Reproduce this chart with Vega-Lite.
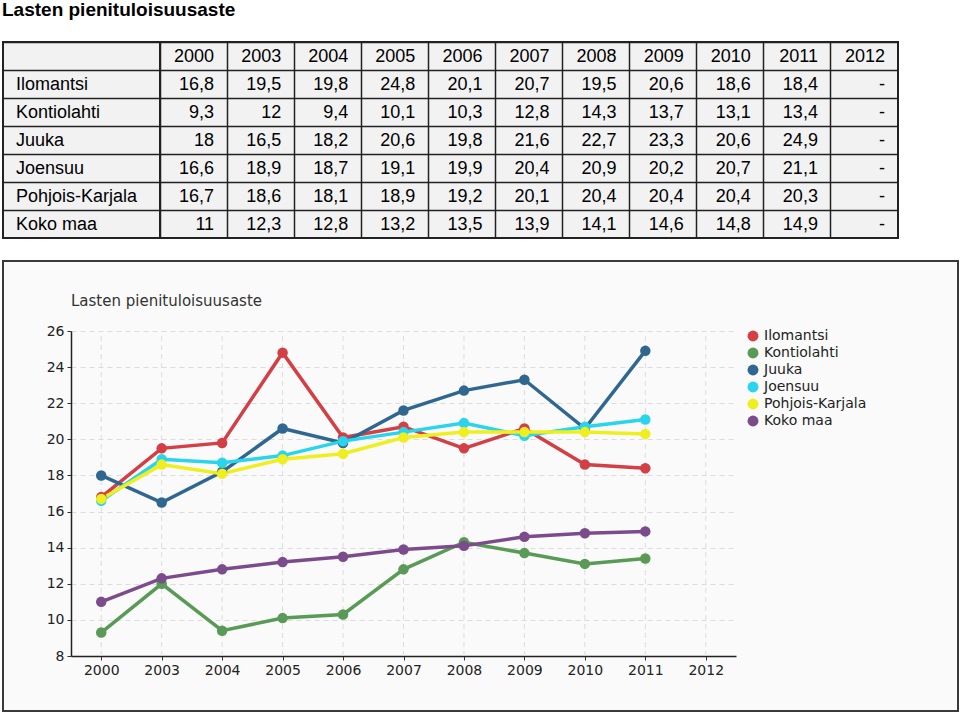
{
  "$schema": "https://vega.github.io/schema/vega-lite/v6.json",
  "padding": {"left": 2, "top": 1, "right": 3, "bottom": 2},
  "background": "white",
  "title": {"text": "Lasten pienituloisuusaste", "anchor": "start", "font": "Liberation Sans", "fontSize": 19, "fontWeight": "bold", "color": "#000000", "baseline": "top", "offset": 21},
  "config": {
    "locale": {"number": {"decimal": ",", "thousands": " ", "grouping": [3], "currency": ["", " €"]}},
    "view": {"stroke": null}
  },
  "datasets": {
    "rates": [
      {"region": "Ilomantsi", "year": "2000", "value": 16.8},
      {"region": "Ilomantsi", "year": "2003", "value": 19.5},
      {"region": "Ilomantsi", "year": "2004", "value": 19.8},
      {"region": "Ilomantsi", "year": "2005", "value": 24.8},
      {"region": "Ilomantsi", "year": "2006", "value": 20.1},
      {"region": "Ilomantsi", "year": "2007", "value": 20.7},
      {"region": "Ilomantsi", "year": "2008", "value": 19.5},
      {"region": "Ilomantsi", "year": "2009", "value": 20.6},
      {"region": "Ilomantsi", "year": "2010", "value": 18.6},
      {"region": "Ilomantsi", "year": "2011", "value": 18.4},
      {"region": "Ilomantsi", "year": "2012", "value": null},
      {"region": "Kontiolahti", "year": "2000", "value": 9.3},
      {"region": "Kontiolahti", "year": "2003", "value": 12},
      {"region": "Kontiolahti", "year": "2004", "value": 9.4},
      {"region": "Kontiolahti", "year": "2005", "value": 10.1},
      {"region": "Kontiolahti", "year": "2006", "value": 10.3},
      {"region": "Kontiolahti", "year": "2007", "value": 12.8},
      {"region": "Kontiolahti", "year": "2008", "value": 14.3},
      {"region": "Kontiolahti", "year": "2009", "value": 13.7},
      {"region": "Kontiolahti", "year": "2010", "value": 13.1},
      {"region": "Kontiolahti", "year": "2011", "value": 13.4},
      {"region": "Kontiolahti", "year": "2012", "value": null},
      {"region": "Juuka", "year": "2000", "value": 18},
      {"region": "Juuka", "year": "2003", "value": 16.5},
      {"region": "Juuka", "year": "2004", "value": 18.2},
      {"region": "Juuka", "year": "2005", "value": 20.6},
      {"region": "Juuka", "year": "2006", "value": 19.8},
      {"region": "Juuka", "year": "2007", "value": 21.6},
      {"region": "Juuka", "year": "2008", "value": 22.7},
      {"region": "Juuka", "year": "2009", "value": 23.3},
      {"region": "Juuka", "year": "2010", "value": 20.6},
      {"region": "Juuka", "year": "2011", "value": 24.9},
      {"region": "Juuka", "year": "2012", "value": null},
      {"region": "Joensuu", "year": "2000", "value": 16.6},
      {"region": "Joensuu", "year": "2003", "value": 18.9},
      {"region": "Joensuu", "year": "2004", "value": 18.7},
      {"region": "Joensuu", "year": "2005", "value": 19.1},
      {"region": "Joensuu", "year": "2006", "value": 19.9},
      {"region": "Joensuu", "year": "2007", "value": 20.4},
      {"region": "Joensuu", "year": "2008", "value": 20.9},
      {"region": "Joensuu", "year": "2009", "value": 20.2},
      {"region": "Joensuu", "year": "2010", "value": 20.7},
      {"region": "Joensuu", "year": "2011", "value": 21.1},
      {"region": "Joensuu", "year": "2012", "value": null},
      {"region": "Pohjois-Karjala", "year": "2000", "value": 16.7},
      {"region": "Pohjois-Karjala", "year": "2003", "value": 18.6},
      {"region": "Pohjois-Karjala", "year": "2004", "value": 18.1},
      {"region": "Pohjois-Karjala", "year": "2005", "value": 18.9},
      {"region": "Pohjois-Karjala", "year": "2006", "value": 19.2},
      {"region": "Pohjois-Karjala", "year": "2007", "value": 20.1},
      {"region": "Pohjois-Karjala", "year": "2008", "value": 20.4},
      {"region": "Pohjois-Karjala", "year": "2009", "value": 20.4},
      {"region": "Pohjois-Karjala", "year": "2010", "value": 20.4},
      {"region": "Pohjois-Karjala", "year": "2011", "value": 20.3},
      {"region": "Pohjois-Karjala", "year": "2012", "value": null},
      {"region": "Koko maa", "year": "2000", "value": 11},
      {"region": "Koko maa", "year": "2003", "value": 12.3},
      {"region": "Koko maa", "year": "2004", "value": 12.8},
      {"region": "Koko maa", "year": "2005", "value": 13.2},
      {"region": "Koko maa", "year": "2006", "value": 13.5},
      {"region": "Koko maa", "year": "2007", "value": 13.9},
      {"region": "Koko maa", "year": "2008", "value": 14.1},
      {"region": "Koko maa", "year": "2009", "value": 14.6},
      {"region": "Koko maa", "year": "2010", "value": 14.8},
      {"region": "Koko maa", "year": "2011", "value": 14.9},
      {"region": "Koko maa", "year": "2012", "value": null}
    ]
  },
  "spacing": 21,
  "vconcat": [
    {
      "bounds": "flush",
      "spacing": 0,
      "hconcat": [
        {
          "width": 157,
          "height": 196,
          "view": {"fill": "#f2f2f2", "stroke": "#222222", "strokeWidth": 2},
          "data": {"name": "rates"},
          "transform": [{"filter": "datum.year == '2000'"}],
          "mark": {"type": "text", "align": "left", "baseline": "middle", "dx": 13, "dy": 1, "font": "Liberation Sans", "fontSize": 18, "color": "#000000"},
          "encoding": {
            "x": {"datum": 0, "type": "quantitative", "scale": {"domain": [0, 1]}, "axis": null},
            "y": {
              "field": "region", "type": "nominal", "bandPosition": 0.5,
              "scale": {"type": "band", "domain": ["header", "Ilomantsi", "Kontiolahti", "Juuka", "Joensuu", "Pohjois-Karjala", "Koko maa"], "paddingInner": 0, "paddingOuter": 0},
              "axis": {"title": null, "labels": false, "ticks": false, "domain": false, "grid": true, "bandPosition": 0, "gridColor": "#222222", "gridWidth": 1.5, "gridOpacity": 1}
            },
            "text": {"field": "region", "type": "nominal"}
          }
        },
        {
          "width": 738,
          "height": 196,
          "view": {"fill": "#f2f2f2", "stroke": "#222222", "strokeWidth": 2},
          "data": {"name": "rates"},
          "encoding": {
            "x": {
              "field": "year", "type": "ordinal", "bandPosition": 1,
              "scale": {"type": "band", "domain": ["2000", "2003", "2004", "2005", "2006", "2007", "2008", "2009", "2010", "2011", "2012"], "paddingInner": 0, "paddingOuter": 0},
              "axis": {"title": null, "labels": false, "ticks": false, "domain": false, "grid": true, "bandPosition": 0, "gridColor": "#222222", "gridWidth": 1.5, "gridOpacity": 1}
            }
          },
          "layer": [
            {
              "mark": {"type": "text", "align": "right", "baseline": "middle", "dx": -13, "dy": 1, "font": "Liberation Sans", "fontSize": 18, "color": "#000000"},
              "encoding": {
                "y": {
                  "field": "region", "type": "nominal", "bandPosition": 0.5,
                  "scale": {"type": "band", "domain": ["header", "Ilomantsi", "Kontiolahti", "Juuka", "Joensuu", "Pohjois-Karjala", "Koko maa"], "paddingInner": 0, "paddingOuter": 0},
                  "axis": {"title": null, "labels": false, "ticks": false, "domain": false, "grid": true, "bandPosition": 0, "gridColor": "#222222", "gridWidth": 1.5, "gridOpacity": 1}
                },
                "text": {"condition": {"test": "datum.value == null", "value": "-"}, "field": "value", "type": "quantitative"}
              }
            },
            {
              "transform": [{"filter": "datum.region == 'Ilomantsi'"}],
              "mark": {"type": "text", "align": "right", "baseline": "middle", "dx": -13, "dy": 1, "font": "Liberation Sans", "fontSize": 18, "color": "#000000"},
              "encoding": {
                "y": {"datum": "header", "type": "nominal", "bandPosition": 0.5},
                "text": {"field": "year", "type": "nominal"}
              }
            }
          ]
        }
      ]
    },
    {
      "width": 955,
      "height": 450,
      "view": {"fill": "#fafafa", "stroke": "#3a3a3a", "strokeWidth": 2},
      "title": {"text": "Lasten pienituloisuusaste", "anchor": "start", "frame": "group", "offset": -48, "dx": 68, "baseline": "top", "font": "DejaVu Sans", "fontSize": 15, "fontWeight": "normal", "color": "#333333"},
      "data": {"name": "rates"},
      "encoding": {
        "x": {
          "field": "year", "type": "ordinal",
          "scale": {"type": "point", "domain": ["2000", "2003", "2004", "2005", "2006", "2007", "2008", "2009", "2010", "2011", "2012"], "range": [68, 733], "padding": 0.5},
          "axis": {"title": null, "labelAngle": 0, "offset": -55, "grid": false, "domainColor": "#222222", "domainWidth": 1.5, "tickColor": "#333333", "tickSize": 4, "labelFont": "DejaVu Sans", "labelFontSize": 14, "labelColor": "#222222", "labelPadding": 3}
        },
        "color": {
          "field": "region", "type": "nominal",
          "scale": {"domain": ["Ilomantsi", "Kontiolahti", "Juuka", "Joensuu", "Pohjois-Karjala", "Koko maa"], "range": ["#d23f44", "#5a9a57", "#2f6791", "#2ad4ec", "#efef20", "#7b4b8c"]},
          "legend": {"title": null, "orient": "none", "legendX": 743, "legendY": 287, "padding": 0, "symbolType": "circle", "symbolSize": 120, "symbolStrokeWidth": 0, "rowPadding": 3, "labelOffset": 4, "labelFont": "DejaVu Sans", "labelFontSize": 14, "labelColor": "#222222"}
        }
      },
      "layer": [
        {
          "transform": [{"filter": "datum.region == 'Ilomantsi'"}],
          "mark": {"type": "rule", "color": "#dcdcdc", "strokeDash": [5, 4], "strokeWidth": 1},
          "encoding": {
            "y": {"datum": 8, "type": "quantitative"},
            "y2": {"datum": 26},
            "color": {"value": "#dcdcdc"}
          }
        },
        {
          "mark": {"type": "line", "strokeWidth": 3.5},
          "encoding": {
            "y": {
              "field": "value", "type": "quantitative",
              "scale": {"domain": [8, 26], "range": [395, 70], "nice": false, "zero": false},
              "axis": {"title": null, "values": [8, 10, 12, 14, 16, 18, 20, 22, 24, 26], "offset": -68, "domainColor": "#222222", "domainWidth": 1.5, "tickColor": "#333333", "tickSize": 4, "labelFont": "DejaVu Sans", "labelFontSize": 14, "labelColor": "#222222", "labelPadding": 3, "grid": true, "gridColor": "#dcdcdc", "gridDash": [5, 4], "gridWidth": 1}
            }
          }
        },
        {
          "mark": {"type": "circle", "size": 110, "opacity": 1},
          "encoding": {
            "y": {"field": "value", "type": "quantitative"}
          }
        }
      ]
    }
  ]
}
